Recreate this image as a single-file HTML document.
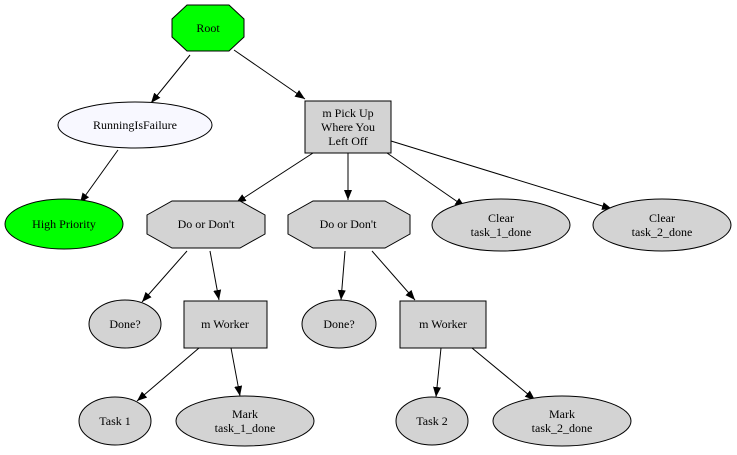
<!DOCTYPE html>
<html><head><meta charset="utf-8"><style>
html,body{margin:0;padding:0;background:#fff;}
svg{display:block;}
text{font-family:"Liberation Serif",serif;font-size:12px;text-anchor:middle;fill:#000;}
</style></head><body>
<svg width="737" height="455" viewBox="0 0 737 455" xmlns="http://www.w3.org/2000/svg">
<defs><marker id="a" viewBox="0 0 10 10" refX="10" refY="5" markerWidth="10" markerHeight="10" markerUnits="userSpaceOnUse" orient="auto"><path d="M0,1 L10,5 L0,9 z" fill="#000"/></marker></defs>
<g stroke="#000" stroke-width="1" fill="none" marker-end="url(#a)">
<line x1="190" y1="55" x2="151" y2="103"/>
<line x1="234" y1="50" x2="305" y2="99"/>
<line x1="118" y1="150" x2="80" y2="203"/>
<line x1="313" y1="153" x2="236" y2="203"/>
<line x1="348" y1="153" x2="348" y2="200"/>
<line x1="387" y1="153" x2="465" y2="207"/>
<line x1="391" y1="141" x2="612" y2="209"/>
<line x1="187" y1="251" x2="142" y2="302"/>
<line x1="210" y1="251" x2="219" y2="300"/>
<line x1="345" y1="251" x2="341" y2="300"/>
<line x1="372" y1="251" x2="415" y2="300"/>
<line x1="199" y1="348" x2="137" y2="401"/>
<line x1="231" y1="348" x2="240" y2="396"/>
<line x1="441" y1="348" x2="436" y2="397"/>
<line x1="472" y1="348" x2="535" y2="400"/>
</g>
<g stroke="#000" stroke-width="1">
<polygon points="187,5 229,5 244,19 244,37 229,51 187,51 172,37 172,19" fill="#00ff00"/>
<ellipse cx="135" cy="125" rx="77" ry="23" fill="#f8f8ff"/>
<rect x="305" y="101" width="86" height="52" fill="#d3d3d3"/>
<ellipse cx="64" cy="224" rx="59" ry="25" fill="#00ff00"/>
<polygon points="172,201 240,201 265,215 265,234 240,248 172,248 147,234 147,215" fill="#d3d3d3"/>
<polygon points="313,201 385,201 410,215 410,234 385,248 313,248 288,234 288,215" fill="#d3d3d3"/>
<ellipse cx="501" cy="225" rx="69" ry="26" fill="#d3d3d3"/>
<ellipse cx="662" cy="225" rx="69" ry="26" fill="#d3d3d3"/>
<ellipse cx="125" cy="324" rx="36" ry="24" fill="#d3d3d3"/>
<rect x="184" y="301" width="83" height="47" fill="#d3d3d3"/>
<ellipse cx="339" cy="324" rx="37" ry="24" fill="#d3d3d3"/>
<rect x="400" y="301" width="86" height="47" fill="#d3d3d3"/>
<ellipse cx="115" cy="421" rx="36" ry="24" fill="#d3d3d3"/>
<ellipse cx="245" cy="421" rx="69" ry="25" fill="#d3d3d3"/>
<ellipse cx="432" cy="421" rx="36" ry="24" fill="#d3d3d3"/>
<ellipse cx="562" cy="421" rx="69" ry="25" fill="#d3d3d3"/>
</g>
<text x="208" y="32">Root</text>
<text x="135" y="129">RunningIsFailure</text>
<text x="348" y="117">m Pick Up</text>
<text x="348" y="131">Where You</text>
<text x="348" y="145">Left Off</text>
<text x="64" y="228">High Priority</text>
<text x="206" y="228">Do or Don't</text>
<text x="348" y="228">Do or Don't</text>
<text x="501" y="222">Clear</text>
<text x="501" y="236">task_1_done</text>
<text x="662" y="222">Clear</text>
<text x="662" y="236">task_2_done</text>
<text x="125" y="328">Done?</text>
<text x="225" y="328">m Worker</text>
<text x="339" y="328">Done?</text>
<text x="443" y="328">m Worker</text>
<text x="115" y="425">Task 1</text>
<text x="245" y="418">Mark</text>
<text x="245" y="432">task_1_done</text>
<text x="432" y="425">Task 2</text>
<text x="562" y="418">Mark</text>
<text x="562" y="432">task_2_done</text>
</svg>
</body></html>
